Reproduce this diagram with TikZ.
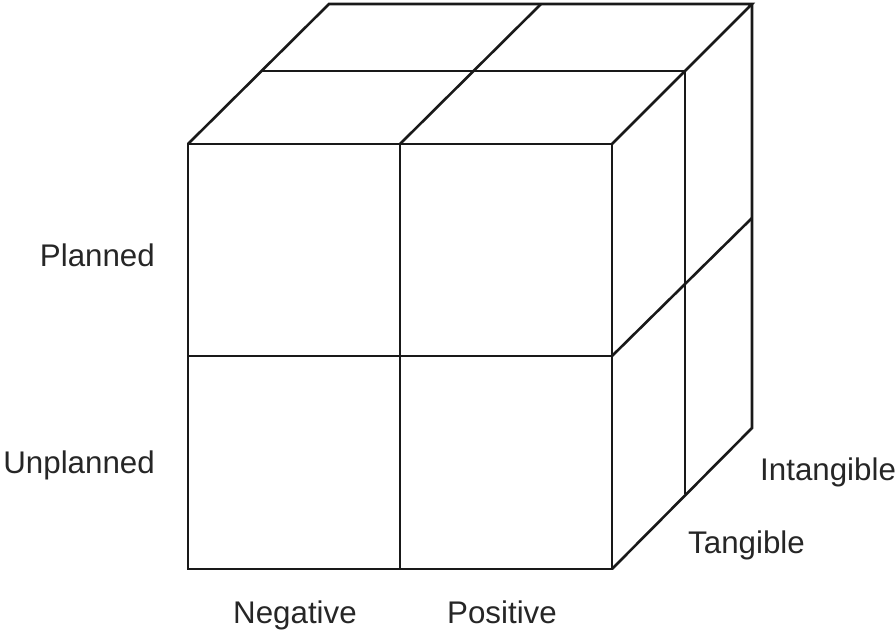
\documentclass[tikz,border=0pt]{standalone}
\usepackage{fontspec}
\setmainfont{Liberation Sans}
\begin{document}
\begin{tikzpicture}[x=1pt,y=-1pt,
  edge/.style={line width=2.6pt,line join=miter,color=black!90},
  lbl/.style={inner sep=0pt,font=\fontsize{31.3}{37}\selectfont,text=black!85}]
\useasboundingbox (0,0) rectangle (896,631);
% key points
\coordinate (FTL) at (188,144);
\coordinate (FTM) at (400,144);
\coordinate (FTR) at (612,144);
\coordinate (FML) at (188,356);
\coordinate (FMR) at (612,356);
\coordinate (FBL) at (188,569);
\coordinate (FBM) at (400,569);
\coordinate (FBR) at (612,569);
\coordinate (MTL) at (261,71);
\coordinate (MTM) at (473,71);
\coordinate (MTR) at (685,71);
\coordinate (MMR) at (685,286);
\coordinate (MBR) at (685,494);
\coordinate (BTL) at (329,4);
\coordinate (BTM) at (541,4);
\coordinate (BTR) at (752,4);
\coordinate (BMR) at (752,218);
\coordinate (BBR) at (752,428);
% front face
\draw[edge] (FTL) rectangle (FBR);
\draw[edge] (FTM) -- (FBM);
\draw[edge] (FML) -- (FMR);
% top face
\draw[edge] (FTL) -- (BTL) -- (BTR) -- (FTR);
\draw[edge] (FTM) -- (BTM);
\draw[edge] (MTL) -- (MTR);
% right face
\draw[edge] (BTR) -- (BBR) -- (FBR);
\draw[edge] (MTR) -- (MBR);
\draw[edge] (FMR) -- (BMR);
% labels
\node[lbl,anchor=base east] (planned) at (155,266.5) {Planned};
\node[lbl,anchor=base east] (unplanned) at (155,473) {Unplanned};
\node[lbl,anchor=base] (negative) at (295,623) {Negative};
\node[lbl,anchor=base] (positive) at (502,623) {Positive};
\node[lbl,anchor=base west] (intangible) at (760,480) {Intangible};
\node[lbl,anchor=base west] (tangible) at (688,553) {Tangible};
\end{tikzpicture}
\end{document}
